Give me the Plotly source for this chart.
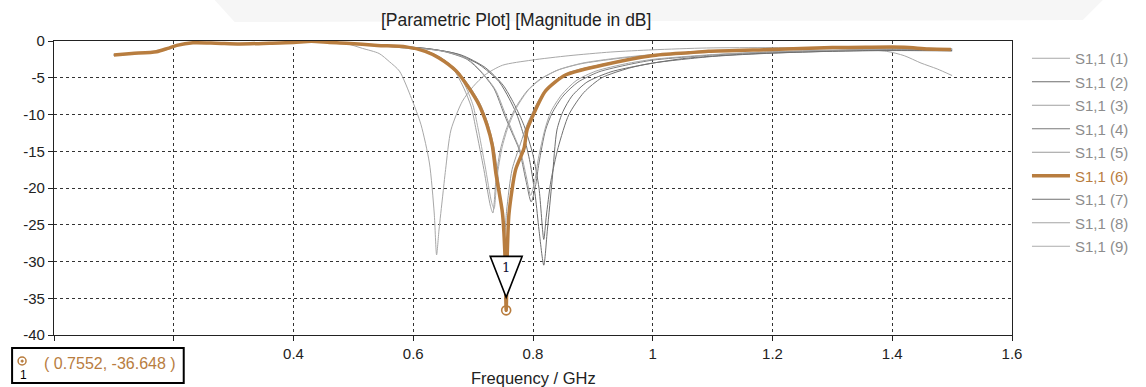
import plotly.graph_objects as go

# ---------------- data ----------------
LOW_F = [0.10, 0.13, 0.171, 0.19, 0.205, 0.232, 0.27, 0.31, 0.36, 0.40, 0.43, 0.46]
LOW_DB = [-1.9, -1.7, -1.45, -1.0, -0.6, -0.25, -0.3, -0.4, -0.3, -0.2, -0.05, -0.2]

f1 = [0.49, 0.515, 0.543, 0.56, 0.577, 0.597, 0.613, 0.627, 0.635, 0.639, 0.643, 0.649, 0.654, 0.663,
      0.682, 0.70, 0.72, 0.749, 0.798, 0.86, 0.93, 1.0, 1.09, 1.2, 1.3, 1.39, 1.42, 1.448, 1.475, 1.5]
db1 = [-0.4, -1.0, -1.7, -2.8, -4.1, -7.8, -11.4, -16.6, -23.4, -29.1, -25.7, -21.2, -17.5, -12.1,
       -8.2, -6.2, -4.6, -3.3, -2.6, -2.0, -1.5, -1.2, -0.95, -0.9, -1.0, -1.4, -2.0, -3.0, -3.8, -4.7]

f2 = [0.49, 0.55, 0.62, 0.67, 0.71, 0.743, 0.76, 0.773, 0.785, 0.795, 0.804, 0.81, 0.818, 0.824,
      0.832, 0.84, 0.85, 0.865, 0.89, 0.93, 0.98, 1.05, 1.15, 1.25, 1.35, 1.45, 1.5]
db2 = [-0.3, -0.6, -1.0, -1.7, -3.2, -5.5, -7.8, -10.0, -13.0, -16.5, -21.2, -25.7, -30.5, -25.7,
       -18.9, -12.1, -9.6, -7.5, -5.6, -4.2, -3.3, -2.4, -1.8, -1.5, -1.3, -1.25, -1.3]

f3 = [0.49, 0.54, 0.59, 0.62, 0.65, 0.67, 0.685, 0.697, 0.705, 0.718, 0.729, 0.733, 0.738, 0.745,
      0.755, 0.77, 0.79, 0.81, 0.84, 0.88, 0.94, 1.0, 1.1, 1.2, 1.3, 1.4, 1.5]
db3 = [-0.3, -0.6, -1.0, -1.3, -2.6, -4.2, -6.5, -9.0, -12.1, -17.5, -22.5, -23.4, -19.0, -15.0,
       -12.1, -9.2, -6.8, -5.3, -4.0, -3.1, -2.4, -1.9, -1.45, -1.2, -1.05, -0.95, -1.05]

f4 = [0.49, 0.55, 0.60, 0.65, 0.69, 0.713, 0.735, 0.752, 0.765, 0.777, 0.788, 0.797, 0.804, 0.81,
      0.821, 0.832, 0.85, 0.875, 0.91, 0.96, 1.0, 1.1, 1.2, 1.3, 1.4, 1.5]
db4 = [-0.3, -0.6, -0.9, -1.4, -2.5, -4.2, -6.5, -10.0, -12.5, -14.8, -18.9, -21.9, -19.8, -16.6,
       -12.1, -9.8, -7.5, -5.6, -4.2, -3.2, -2.6, -1.9, -1.5, -1.3, -1.15, -1.2]

f5 = [0.49, 0.54, 0.59, 0.62, 0.645, 0.673, 0.695, 0.712, 0.725, 0.734, 0.741, 0.748, 0.752, 0.756,
      0.765, 0.779, 0.79, 0.81, 0.83, 0.86, 0.92, 1.0, 1.1, 1.2, 1.3, 1.4, 1.5]
db5 = [-0.3, -0.55, -0.8, -1.3, -2.2, -4.0, -6.3, -8.6, -11.3, -14.2, -18.0, -23.0, -27.0, -23.0,
       -17.5, -14.0, -11.4, -8.0, -6.0, -4.3, -3.1, -1.95, -1.4, -1.15, -0.95, -0.9, -1.15]

f6 = [0.488, 0.54, 0.588, 0.62, 0.643, 0.672, 0.693, 0.71, 0.723, 0.732, 0.738, 0.749, 0.753, 0.7552,
      0.757, 0.76, 0.771, 0.785, 0.79, 0.798, 0.821, 0.855, 0.915, 0.998, 1.06, 1.093, 1.198, 1.3,
      1.355, 1.42, 1.46, 1.498]
db6 = [-0.3, -0.6, -0.8, -1.4, -2.3, -4.1, -6.4, -8.7, -11.4, -14.2, -18.0, -23.4, -28.8, -36.648,
       -29.0, -23.4, -17.5, -14.6, -12.1, -10.5, -6.8, -4.6, -3.3, -2.0, -1.6, -1.4, -1.15, -0.9,
       -0.85, -0.85, -1.1, -1.15]

f7 = [0.49, 0.56, 0.63, 0.68, 0.72, 0.75, 0.768, 0.785, 0.80, 0.81, 0.818, 0.822, 0.83, 0.842,
      0.86, 0.885, 0.915, 0.96, 1.0, 1.1, 1.2, 1.3, 1.4, 1.5]
db7 = [-0.3, -0.6, -1.1, -1.9, -3.6, -6.0, -8.5, -11.5, -15.5, -20.0, -27.0, -24.0, -19.0, -14.5,
       -10.0, -7.0, -5.0, -3.7, -3.0, -2.1, -1.65, -1.4, -1.3, -1.35]

f8 = [0.49, 0.55, 0.60, 0.65, 0.69, 0.715, 0.737, 0.754, 0.767, 0.779, 0.789, 0.796, 0.803, 0.809,
      0.82, 0.83, 0.848, 0.872, 0.905, 0.955, 1.0, 1.1, 1.2, 1.3, 1.4, 1.5]
db8 = [-0.3, -0.6, -0.9, -1.4, -2.4, -4.3, -6.6, -10.0, -12.6, -15.0, -18.5, -21.0, -19.0, -16.0,
       -12.0, -9.6, -7.3, -5.4, -4.1, -3.1, -2.5, -1.85, -1.45, -1.25, -1.1, -1.15]

f9 = [0.49, 0.54, 0.59, 0.62, 0.65, 0.672, 0.688, 0.70, 0.708, 0.72, 0.731, 0.735, 0.74, 0.748,
      0.758, 0.773, 0.793, 0.813, 0.843, 0.883, 0.943, 1.0, 1.1, 1.2, 1.3, 1.4, 1.5]
db9 = [-0.3, -0.6, -1.0, -1.3, -2.5, -4.1, -6.3, -8.8, -11.8, -17.0, -22.0, -22.8, -18.5, -14.6,
       -11.8, -9.0, -6.6, -5.2, -3.9, -3.0, -2.3, -1.85, -1.4, -1.15, -1.0, -0.95, -1.05]

SERIES_F = [f1, f2, f3, f4, f5, f6, f7, f8, f9]
SERIES_DB = [db1, db2, db3, db4, db5, db6, db7, db8, db9]
NAMES = ["S1,1 (1)", "S1,1 (2)", "S1,1 (3)", "S1,1 (4)", "S1,1 (5)",
         "S1,1 (6)", "S1,1 (7)", "S1,1 (8)", "S1,1 (9)"]

X_TICKS = [0, 0.2, 0.4, 0.6, 0.8, 1.0, 1.2, 1.4, 1.6]
X_TICKTEXT = ["", "", "0.4", "0.6", "0.8", "1", "1.2", "1.4", "1.6"]
Y_TICKS = [0, -5, -10, -15, -20, -25, -30, -35, -40]
Y_TICKTEXT = ["0", "-5", "-10", "-15", "-20", "-25", "-30", "-35", "-40"]

MARK_X = 0.7552
MARK_Y = -36.648

# ---------------- styling ----------------
BROWN = "#B87D3F"
GRAYS = ["#a8a8a8", "#6e6e6e", "#a0a0a0", "#7a7a7a", "#9a9a9a", BROWN, "#707070", "#a4a4a4", "#acacac"]
LEGEND_GRAY = "#8c8c8c"
FONT = "Liberation Sans"

W, H = 1146, 387
L, R, T, B = 54, 1014, 41, 335  # plot area in pixels


def px_x(p):
    return (p - L) / (R - L)


def px_y(p):
    return (B - p) / (B - T)


fig = go.Figure()

order = [0, 1, 2, 3, 4, 6, 7, 8, 5]  # draw brown last (on top)
for i in order:
    fx = LOW_F + SERIES_F[i]
    fy = LOW_DB + SERIES_DB[i]
    is_main = (i == 5)
    color = GRAYS[i]
    lname = NAMES[i]
    lcolor = BROWN if is_main else LEGEND_GRAY
    fig.add_trace(go.Scatter(
        x=fx, y=fy, mode="lines",
        name=f"<span style='color:{lcolor}'>{lname}</span>",
        line=dict(color=color, width=3.5 if is_main else 1, shape="spline", smoothing=0.7),
        legendgroup=f"g{i}", legendrank=i + 1,
        hoverinfo="skip",
    ))

# marker point
fig.add_trace(go.Scatter(
    x=[MARK_X], y=[MARK_Y], mode="markers", showlegend=False, hoverinfo="skip",
    marker=dict(symbol="circle-open-dot", size=9, color=BROWN, line=dict(width=1.6, color=BROWN)),
    cliponaxis=False,
))

shapes = []
# triangle marker flag (pixel offsets relative to the marker point)
shapes.append(dict(
    type="path", xref="x", yref="y", xsizemode="pixel", ysizemode="pixel",
    xanchor=MARK_X, yanchor=MARK_Y,
    path="M -16,54 L 16,54 L 0,13 Z",
    line=dict(color="black", width=1.6), fillcolor="white", layer="above",
))
# marker readout box
shapes.append(dict(
    type="rect", xref="paper", yref="paper",
    x0=px_x(12), x1=px_x(184), y0=px_y(383), y1=px_y(348),
    line=dict(color="black", width=2), fillcolor="white", layer="above",
))
shapes.append(dict(
    type="circle", xref="paper", yref="paper",
    x0=px_x(18), x1=px_x(26), y0=px_y(365), y1=px_y(357),
    line=dict(color=BROWN, width=1.5), fillcolor="white", layer="above",
))
shapes.append(dict(
    type="circle", xref="paper", yref="paper",
    x0=px_x(21), x1=px_x(23.2), y0=px_y(362.2), y1=px_y(360),
    line=dict(color=BROWN, width=1), fillcolor=BROWN, layer="above",
))
# faint watermark band at top
shapes.append(dict(
    type="path", xref="paper", yref="paper",
    path=f"M {px_x(215)},{px_y(0)} L {px_x(1105)},{px_y(0)} L {px_x(1085)},{px_y(20)} L {px_x(235)},{px_y(22)} Z",
    line=dict(width=0), fillcolor="#f6f6f6", layer="below",
))

annotations = [
    dict(text="[Parametric Plot] [Magnitude in dB]", xref="paper", yref="paper",
         x=px_x(517), y=px_y(20), showarrow=False, xanchor="center", yanchor="middle",
         font=dict(family=FONT, size=17.5, color="#222222")),
    dict(text="Frequency / GHz", xref="paper", yref="paper",
         x=px_x(534), y=px_y(378), showarrow=False, xanchor="center", yanchor="middle",
         font=dict(family=FONT, size=16.5, color="#222222")),
    dict(text="1", xref="x", yref="y", x=MARK_X, y=MARK_Y, yshift=43, showarrow=False,
         xanchor="center", yanchor="middle",
         font=dict(family="DejaVu Serif", size=13, color="#111133")),
    dict(text=f"( {MARK_X:.4f}, {MARK_Y:.3f} )", xref="paper", yref="paper",
         x=px_x(42), y=px_y(363), showarrow=False, xanchor="left", yanchor="middle",
         font=dict(family=FONT, size=16, color=BROWN)),
    dict(text="1", xref="paper", yref="paper",
         x=px_x(23), y=px_y(375), showarrow=False, xanchor="center", yanchor="middle",
         font=dict(family=FONT, size=12, color="black")),
]

axis_common = dict(
    showline=True, linecolor="#222222", linewidth=1.2, mirror=True,
    ticks="outside", ticklen=5, tickcolor="#222222", tickwidth=1,
    showgrid=True, gridcolor="#333333", gridwidth=1, griddash="3px,3px",
    zeroline=False, tickfont=dict(family=FONT, size=15, color="#222222"),
)

fig.update_layout(
    width=W, height=H,
    margin=dict(l=L, r=W - R, t=T, b=H - B, pad=0),
    paper_bgcolor="white", plot_bgcolor="white",
    xaxis=dict(range=[0, 1.6], tickvals=X_TICKS, ticktext=X_TICKTEXT, **axis_common),
    yaxis=dict(range=[-40, 0], tickvals=Y_TICKS, ticktext=Y_TICKTEXT, **axis_common),
    showlegend=True,
    legend=dict(x=px_x(1029), y=px_y(42), xanchor="left", yanchor="top",
                bgcolor="rgba(0,0,0,0)", borderwidth=0, tracegroupgap=1,
                traceorder="grouped", itemwidth=38,
                font=dict(family=FONT, size=15, color=LEGEND_GRAY)),
    shapes=shapes, annotations=annotations,
)

fig.write_html("out.html")
